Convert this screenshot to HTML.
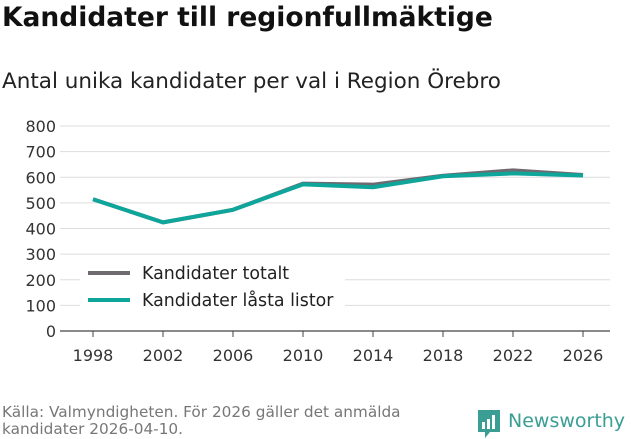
<!DOCTYPE html>
<html><head><meta charset="utf-8"><style>
body{margin:0;width:631px;height:439px;background:#fff;font-family:"DejaVu Sans","Liberation Sans",sans-serif;overflow:hidden;position:relative}
.t{position:absolute;left:2px;top:2px;font-size:26.5px;font-weight:bold;color:#111}
.s{position:absolute;left:2px;top:69px;font-size:21.5px;color:#222}
.src{position:absolute;left:2px;top:404px;font-size:15.3px;color:#777;line-height:17px}
</style></head><body>
<div class="t">Kandidater till regionfullmäktige</div>
<div class="s">Antal unika kandidater per val i Region Örebro</div>
<svg id="c" width="631" height="439" style="position:absolute;left:0;top:0"></svg>
<div class="src">Källa: Valmyndigheten. För 2026 gäller det anmälda<br>kandidater 2026-04-10.</div>
<div style="position:absolute;left:476px;top:409px;height:30px">
<svg width="26" height="30" style="position:absolute;left:0;top:0"><path d="M2 1h22v22H14l-5 6v-6H2z" fill="#3a9e94"/><rect x="6" y="13" width="3" height="7" fill="#fff"/><rect x="11" y="10" width="3" height="10" fill="#fff"/><rect x="16" y="6" width="3" height="14" fill="#fff"/></svg>
<span style="position:absolute;left:32px;top:1px;font-size:19px;color:#3a9e94;white-space:nowrap">Newsworthy</span></div>
<script>
const years=[1998,2002,2006,2010,2014,2018,2022,2026];
const totalt=[514,424,473,575,571,606,627,609];
const lasta=[514,424,473,572,561,604,615,607];
const yTicks=[0,100,200,300,400,500,600,700,800];
const NS="http://www.w3.org/2000/svg";
const svg=document.getElementById('c');
const x=v=>93+(v-1998)*(490/28);
const y=v=>331-v*(205/800);
function mk(t,a){const e=document.createElementNS(NS,t);for(const k in a)e.setAttribute(k,a[k]);svg.appendChild(e);return e;}
yTicks.forEach(v=>{
 const l=mk('line',{x1:60,x2:610,y1:y(v),y2:y(v),stroke:v===0?'#444':'#ddd','stroke-width':v===0?1.2:1});
 
 
 const t=mk('text',{x:56,y:y(v)+6,'text-anchor':'end','font-size':16,fill:'#333'});t.textContent=v;
 
 
});
years.forEach(v=>{
 const l=mk('line',{x1:x(v),x2:x(v),y1:331,y2:337,stroke:'#444'});
 
 
 const t=mk('text',{x:x(v),y:361,'text-anchor':'middle','font-size':16,fill:'#333'});t.textContent=v;
 
 
});
function line(d,c,n){const p=mk('polyline',{points:d.map((v,i)=>x(years[i])+','+y(v)).join(' '),fill:'none',stroke:c,'stroke-width':4,'stroke-linejoin':'round'});
 
 }
line(totalt,'#6e6a70','series-kandidater-totalt');
line(lasta,'#0ea59a','series-kandidater-lasta-listor');
mk('rect',{x:80,y:258,width:265,height:62,fill:'#fff'});
[['Kandidater totalt','#6e6a70',273],['Kandidater låsta listor','#0ea59a',300]].forEach(([s,c,yy])=>{
 const l=mk('line',{x1:88,x2:130,y1:yy,y2:yy,stroke:c,'stroke-width':4});
 
 
 const t=mk('text',{x:142,y:yy+6,'font-size':17.4,fill:'#222'});t.textContent=s;
 
 
});
</script>
</body></html>
